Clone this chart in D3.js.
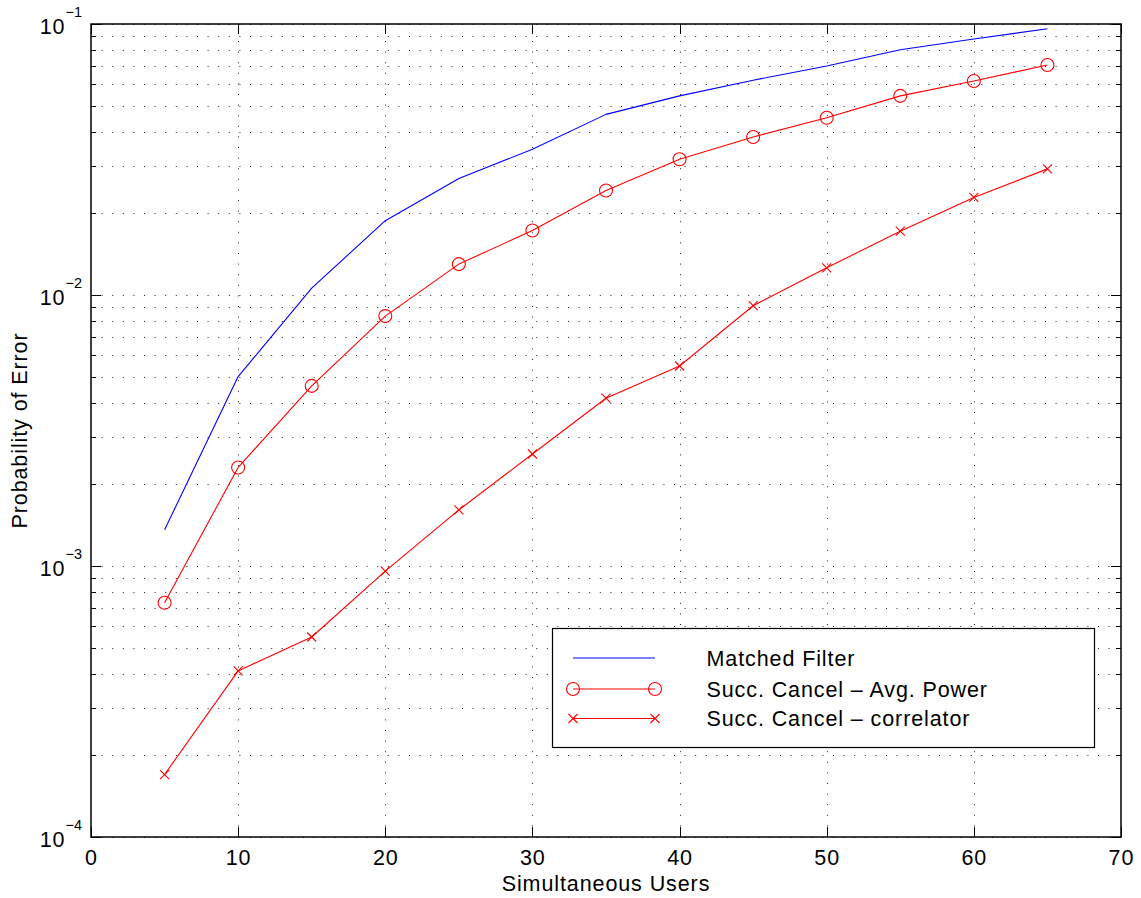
<!DOCTYPE html>
<html>
<head>
<meta charset="utf-8">
<script src="https://cdn.jsdelivr.net/npm/d3@7"></script>
<style>
  html, body { margin: 0; padding: 0; background: #fff; }
  svg { display: block; font-family: "Liberation Sans", Arial, Helvetica, sans-serif; }
</style>
</head>
<body>
<svg id="chart" width="1141" height="898"></svg>
<script>
// Number of simultaneous users simulated
const users = [5, 10, 15, 20, 25, 30, 35, 40, 45, 50, 55, 60, 65];

// Probability of error per receiver
const matchedFilter = [0.00136, 0.0050, 0.0106, 0.0188, 0.0269, 0.0345, 0.0464, 0.0543, 0.0620, 0.0700, 0.0804, 0.0880, 0.0961];
const succCancelAvgPower = [0.000732, 0.00231, 0.00462, 0.00836, 0.0130, 0.0173, 0.0243, 0.0317, 0.0383, 0.0451, 0.0543, 0.0616, 0.0706];
const succCancelCorrelator = [0.000170, 0.000410, 0.000547, 0.000958, 0.00161, 0.00259, 0.00416, 0.00547, 0.00913, 0.0126, 0.0172, 0.0229, 0.0292];

// Axis ticks
const xTicks = [0, 10, 20, 30, 40, 50, 60, 70];
const yDecades = [-4, -3, -2, -1];

const seriesNames = ["Matched Filter", "Succ. Cancel \u2013 Avg. Power", "Succ. Cancel \u2013 correlator"];

const svg = d3.select("#chart");
const plot = { left: 91, top: 24, right: 1121, bottom: 837 };

const x = d3.scaleLinear().domain([0, 70]).range([plot.left, plot.right]);
const y = d3.scaleLog().domain([1e-4, 1e-1]).range([plot.bottom, plot.top]);

// Major and minor positions on the log axis
const yMajor = yDecades.map(e => Math.pow(10, e));
const yMinor = [];
yDecades.slice(0, -1).forEach(e => {
  for (let k = 2; k <= 9; k++) yMinor.push(k * Math.pow(10, e));
});

// Dotted grid
const grid = svg.append("g").attr("stroke", "#222").attr("stroke-width", 1)
  .attr("stroke-dasharray", "1,9.6").attr("fill", "none");
yMajor.concat(yMinor).forEach(v => {
  const yy = Math.round(y(v)) + 0.5;
  grid.append("line").attr("x1", plot.left).attr("x2", plot.right).attr("y1", yy).attr("y2", yy);
});
xTicks.slice(1, -1).forEach(v => {
  const xx = Math.round(x(v)) + 0.5;
  grid.append("line").attr("x1", xx).attr("x2", xx).attr("y1", plot.bottom).attr("y2", plot.top);
});

// Inward ticks on all four sides
const ticks = svg.append("g").attr("stroke", "#000").attr("stroke-width", 1);
xTicks.forEach(v => {
  const xx = Math.round(x(v)) + 0.5;
  ticks.append("line").attr("x1", xx).attr("x2", xx).attr("y1", plot.bottom).attr("y2", plot.bottom - 10);
  ticks.append("line").attr("x1", xx).attr("x2", xx).attr("y1", plot.top).attr("y2", plot.top + 10);
});
yMajor.forEach(v => {
  const yy = Math.round(y(v)) + 0.5;
  ticks.append("line").attr("x1", plot.left).attr("x2", plot.left + 10).attr("y1", yy).attr("y2", yy);
  ticks.append("line").attr("x1", plot.right).attr("x2", plot.right - 10).attr("y1", yy).attr("y2", yy);
});
yMinor.forEach(v => {
  const yy = Math.round(y(v)) + 0.5;
  ticks.append("line").attr("x1", plot.left).attr("x2", plot.left + 5).attr("y1", yy).attr("y2", yy);
  ticks.append("line").attr("x1", plot.right).attr("x2", plot.right - 5).attr("y1", yy).attr("y2", yy);
});

// Axes box
svg.append("rect")
  .attr("x", plot.left).attr("y", plot.top)
  .attr("width", plot.right - plot.left).attr("height", plot.bottom - plot.top)
  .attr("fill", "none").attr("stroke", "#000").attr("stroke-width", 1.5);

// Tick labels
const tickFont = 21.5;
const spacing = 0.9;
svg.append("g").selectAll("text").data(xTicks).join("text")
  .attr("x", d => x(d) + spacing / 2).attr("y", 865)
  .attr("text-anchor", "middle").attr("font-size", tickFont).attr("fill", "#000")
  .attr("letter-spacing", spacing)
  .text(d => d);

const yLab = svg.append("g").attr("fill", "#000");
yDecades.forEach(e => {
  const yy = y(Math.pow(10, e));
  yLab.append("text").attr("x", 64.5 + spacing).attr("y", yy + 9.5)
    .attr("text-anchor", "end").attr("font-size", tickFont)
    .attr("letter-spacing", spacing).text("10");
  yLab.append("text").attr("x", 65.5).attr("y", yy - 7)
    .attr("text-anchor", "start").attr("font-size", 14.5).text("\u2212" + Math.abs(e));
});

// Axis titles
svg.append("text")
  .attr("x", (plot.left + plot.right) / 2).attr("y", 891)
  .attr("text-anchor", "middle").attr("font-size", tickFont).attr("fill", "#000")
  .attr("letter-spacing", spacing)
  .text("Simultaneous Users");
svg.append("text")
  .attr("transform", `translate(27,${(plot.top + plot.bottom) / 2}) rotate(-90)`)
  .attr("text-anchor", "middle").attr("font-size", tickFont).attr("fill", "#000")
  .attr("letter-spacing", spacing)
  .text("Probability of Error");

// Data lines
const line = d3.line().x(d => x(d[0])).y(d => y(d[1]));
const series = [
  { values: matchedFilter, color: "#0000ff", marker: null },
  { values: succCancelAvgPower, color: "#ff0000", marker: "circle" },
  { values: succCancelCorrelator, color: "#ff0000", marker: "cross" }
];

function drawMarker(g, kind, cx, cy, color) {
  if (kind === "circle") {
    g.append("circle").attr("cx", cx).attr("cy", cy).attr("r", 6.5)
      .attr("fill", "none").attr("stroke", color).attr("stroke-width", 1.1);
  } else if (kind === "cross") {
    const s = 4.5;
    g.append("path")
      .attr("d", `M${cx - s},${cy - s}L${cx + s},${cy + s}M${cx - s},${cy + s}L${cx + s},${cy - s}`)
      .attr("stroke", color).attr("stroke-width", 1.1).attr("fill", "none");
  }
}

series.forEach(s => {
  const pts = users.map((u, i) => [u, s.values[i]]);
  svg.append("path").datum(pts).attr("d", line)
    .attr("fill", "none").attr("stroke", s.color).attr("stroke-width", 1.1)
    .attr("stroke-linejoin", "round");
  if (s.marker) {
    const g = svg.append("g");
    pts.forEach(p => drawMarker(g, s.marker, x(p[0]), y(p[1]), s.color));
  }
});

// Legend
const legend = svg.append("g");
legend.append("rect").attr("x", 552.5).attr("y", 628.5).attr("width", 542).attr("height", 119)
  .attr("fill", "#fff").attr("stroke", "#000").attr("stroke-width", 1.2);
const rowY = [658, 689, 718.5];
series.forEach((s, i) => {
  const yy = rowY[i];
  legend.append("line").attr("x1", 573).attr("x2", 655).attr("y1", yy).attr("y2", yy)
    .attr("stroke", s.color).attr("stroke-width", 1.1);
  if (s.marker) {
    drawMarker(legend, s.marker, 573, yy, s.color);
    drawMarker(legend, s.marker, 655, yy, s.color);
  }
  legend.append("text").attr("x", 706.5).attr("y", yy + 7.5)
    .attr("font-size", tickFont).attr("fill", "#000")
    .attr("letter-spacing", spacing).text(seriesNames[i]);
});
</script>
</body>
</html>
